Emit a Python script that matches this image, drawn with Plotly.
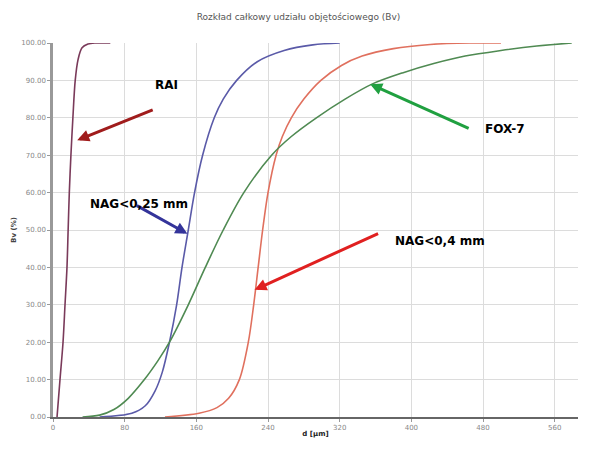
import plotly.graph_objects as go

# Cumulative volume fraction Bv (%) against particle size d [µm]
rai_d = [4.5, 7.8, 11.2, 13.4, 15.6, 16.9, 18.2, 20.0, 22.2, 24.8, 27.9, 32.4, 39, 47, 64]
rai_bv = [0, 10, 20, 30, 40, 50, 60, 70, 80, 90, 95.5, 98.7, 99.7, 100, 100]

nag025_d = [52, 88, 103, 114, 122, 130, 138, 144, 151, 158, 167, 180, 190, 205, 228, 258, 290, 320]
nag025_bv = [0, 1, 3, 7, 12, 20, 30, 40, 50, 60, 70, 80, 85, 90, 95, 98, 99.5, 100]

nag04_d = [125, 163, 183, 196, 208, 218, 224, 229, 234, 240, 249, 256, 266, 280, 299, 322,
           345, 380, 421, 465, 500]
nag04_bv = [0, 1, 2.5, 5, 10, 20, 30, 40, 50, 60, 70, 75, 80, 85, 90, 94,
            96.5, 98.5, 99.6, 100, 100]

fox7_d = [33, 52, 68, 84, 102, 117, 130, 151, 170, 190, 213, 244, 266, 294, 326, 356,
          390, 425, 460, 500, 540, 579]
fox7_bv = [0, 0.5, 2, 5, 10, 15, 20, 30, 40, 50, 60, 70, 75, 80, 85, 89,
           92, 94.5, 96.5, 98, 99.2, 100]

x_ticks = [0, 80, 160, 240, 320, 400, 480, 560]
y_ticks = [0, 10, 20, 30, 40, 50, 60, 70, 80, 90, 100]

fig = go.Figure()

series = [
    (rai_d, rai_bv, "#7a3a5a"),
    (nag025_d, nag025_bv, "#5a5aa8"),
    (nag04_d, nag04_bv, "#e0705e"),
    (fox7_d, fox7_bv, "#4f8a52"),
]
for xs, ys, col in series:
    fig.add_trace(go.Scatter(
        x=xs, y=ys, mode="lines",
        line=dict(color=col, width=1.6, shape="spline", smoothing=0.9),
        showlegend=False, hoverinfo="skip",
    ))

# Arrow callouts: tip (d, Bv), tail offset in px, arrow colour
arrows = [
    (27, 74, 77, -31, "#a01c1c"),
    (150, 49, -52, -29, "#34349a"),
    (225, 34, 125, -57, "#e02020"),
    (354, 89, 100, 45, "#20a040"),
]
for x, y, ax, ay, col in arrows:
    fig.add_annotation(
        x=x, y=y, ax=ax, ay=ay, axref="pixel", ayref="pixel",
        showarrow=True, arrowhead=2, arrowsize=0.8, arrowwidth=3,
        arrowcolor=col, text="",
    )

# Callout labels, positioned in data coordinates (d, Bv)
label_text = ["RAI", "NAG<0,25 mm", "NAG<0,4 mm", "FOX-7"]
label_d = [127, 96, 432, 505]
label_bv = [88.8, 57, 47, 77]
for txt, lx, ly in zip(label_text, label_d, label_bv):
    fig.add_annotation(
        x=lx, y=ly, text=txt, showarrow=False,
        font=dict(family="DejaVu Sans", size=12, color="black", weight="bold"),
    )

fig.update_layout(
    width=597, height=449,
    margin=dict(l=53, r=19, t=43, b=22),
    paper_bgcolor="white", plot_bgcolor="white",
    title=dict(
        text="Rozkład całkowy udziału objętościowego (Bv)",
        x=0.5, xanchor="center", y=0.962, yanchor="middle",
        font=dict(family="DejaVu Sans", size=9, color="#555555"),
    ),
    font=dict(family="DejaVu Sans"),
)

fig.update_xaxes(
    range=[0, 586], tickvals=x_ticks, ticktext=[str(v) for v in x_ticks],
    showgrid=True, gridcolor="#dcdcdc", gridwidth=1,
    showline=True, linecolor="#666666", linewidth=1.5,
    ticks="outside", ticklen=3, tickcolor="#999999",
    tickfont=dict(size=7, color="#888888"),
    zeroline=False,
    title=dict(text="d [µm]", font=dict(size=7, color="#222222", weight="bold"), standoff=0),
)
fig.update_yaxes(
    range=[0, 100], tickvals=y_ticks, ticktext=[f"{v:.2f}" for v in y_ticks],
    showgrid=True, gridcolor="#dcdcdc", gridwidth=1,
    showline=True, linecolor="#999999", linewidth=2.5,
    ticks="outside", ticklen=3, tickcolor="#999999",
    tickfont=dict(size=7, color="#888888"),
    zeroline=False,
    title=dict(text="Bv (%)", font=dict(size=7, color="#444444", weight="bold"), standoff=4),
)

fig.write_html("out.html")
